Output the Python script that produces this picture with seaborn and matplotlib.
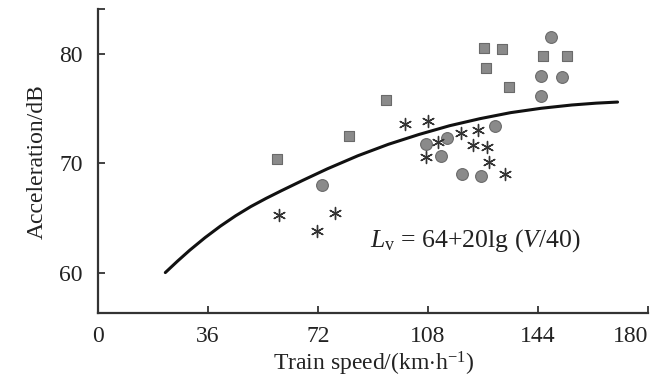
import numpy as np
import pandas as pd
import matplotlib
matplotlib.use("Agg")
import matplotlib.pyplot as plt
import seaborn as sns

# ---- data ----
sq_x = [58.4, 82.1, 94.1, 126.4, 132.2, 126.9, 134.5, 145.5, 153.3]
sq_y = [70.44, 72.49, 75.8, 80.55, 80.49, 78.7, 77.0, 79.84, 79.84]

ci_x = [73.3, 107.3, 114.2, 112.2, 119.1, 125.4, 129.9, 144.9, 144.9, 151.9, 148.2]
ci_y = [68.05, 71.8, 72.37, 70.68, 69.06, 68.84, 73.41, 76.17, 78.03, 77.94, 81.62]

as_x = [59.2, 71.5, 77.5, 100.6, 108.0, 111.1, 107.2, 118.9, 124.4, 122.7, 127.3, 127.9, 133.1]
as_y = [65.23, 63.79, 65.44, 73.57, 73.87, 71.97, 70.59, 72.83, 73.04, 71.66, 71.51, 70.13, 69.06]

curve_x = [22, 26, 30, 35, 40, 45, 50, 55, 60, 67, 75, 85, 95, 105,
           115, 125, 135, 145, 155, 163, 170]
curve_y = [60.0, 61.05, 62.05, 63.2, 64.25, 65.2, 66.05, 66.8, 67.5, 68.45,
           69.5, 70.7, 71.75, 72.65, 73.45, 74.1, 74.65, 75.05, 75.35,
           75.52, 75.62]

x_ticks = [0, 36, 72, 108, 144, 180]
y_ticks = [60, 70, 80]

# ---- style ----
sns.set_style("ticks")
plt.rcParams['font.family'] = ['Liberation Serif', 'DejaVu Serif']
plt.rcParams['mathtext.fontset'] = 'custom'
plt.rcParams['mathtext.rm'] = 'Liberation Serif'
plt.rcParams['mathtext.it'] = 'Liberation Serif:italic'

FS = 17
fig = plt.figure(figsize=(6.54, 3.92), dpi=100)
ax = fig.add_axes([0.150, 0.2008, 0.841, 0.775])

df_sq = pd.DataFrame({"x": sq_x, "y": sq_y})
df_ci = pd.DataFrame({"x": ci_x, "y": ci_y})
df_as = pd.DataFrame({"x": as_x, "y": as_y})
df_cv = pd.DataFrame({"x": curve_x, "y": curve_y})

sns.lineplot(data=df_cv, x="x", y="y", ax=ax, color="#111111", lw=2.2,
             sort=False, estimator=None, zorder=2)
line = ax.get_lines()[-1]
line.set_solid_joinstyle('round')
line.set_solid_capstyle('round')
sns.scatterplot(data=df_sq, x="x", y="y", ax=ax, marker="s", s=62,
                color="#8a8a8a", edgecolor="#6a6a6a", linewidth=0.8, zorder=3)
sns.scatterplot(data=df_ci, x="x", y="y", ax=ax, marker="o", s=72,
                color="#8a8a8a", edgecolor="#6a6a6a", linewidth=0.8, zorder=3)
sns.scatterplot(data=df_as, x="x", y="y", ax=ax, marker=(6, 2, 0), s=75,
                color="#333333", edgecolor="#333333", linewidth=1.0, zorder=3)

ax.set_xlim(0, 180)
ax.set_ylim(56.27, 84.1)
ax.set_xticks(x_ticks)
ax.set_yticks(y_ticks)
ax.set_yticks([84.1], minor=True)
ax.set_xticklabels([str(t) for t in x_ticks], fontsize=FS, color="#222222")
ax.set_yticklabels([str(t) for t in y_ticks], fontsize=FS, color="#222222")
xl = ax.get_xticklabels()
xl[-1].set_horizontalalignment('right')
ax.tick_params(axis='both', which='both', direction='in', length=5, width=1.3,
               color="#333333")
ax.tick_params(axis='x', pad=9)
ax.tick_params(axis='y', pad=11)

for side in ['top', 'right']:
    ax.spines[side].set_visible(False)
for side in ['left', 'bottom']:
    ax.spines[side].set_linewidth(1.6)
    ax.spines[side].set_color("#333333")

ax.set_xlabel(r"Train speed/(km$\cdot$h$^{-1}$)", fontsize=FS, color="#222222", labelpad=2)
ax.set_ylabel("Acceleration/dB", fontsize=FS, color="#222222", labelpad=8)

ax.text(88.9, 62.93, r"$L_{\mathrm{v}}$ = 64+20lg ($V$/40)", fontsize=18.5,
        ha='left', va='center', color="#222222")

fig.savefig("out.png", dpi=100)
